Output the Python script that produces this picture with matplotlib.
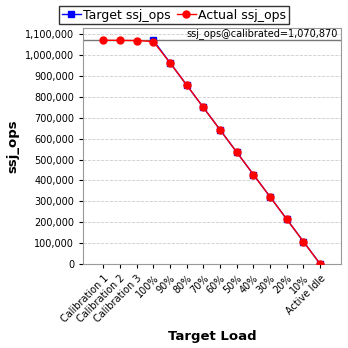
import numpy as np
import matplotlib
matplotlib.use('Agg')
from matplotlib import pyplot as plt
from matplotlib.ticker import FuncFormatter

labels = ['Calibration 1', 'Calibration 2', 'Calibration 3', '100%', '90%', '80%',
          '70%', '60%', '50%', '40%', '30%', '20%', '10%', 'Active Idle']
calibrated = 1070870
target_pct = [1.0, 0.9, 0.8, 0.7, 0.6, 0.5, 0.4, 0.3, 0.2, 0.1, 0.0]
actual = [1071500, 1070900, 1070200, 1065300, 963400, 856800, 749500,
          642300, 535400, 428100, 321200, 214100, 107000, 0]

x = np.arange(len(labels))
target = [calibrated * p for p in target_pct]

fig = plt.figure(figsize=(3.48, 3.48), dpi=100)
ax = fig.add_axes([0.2394, 0.2414, 0.740, 0.678])

ax.plot(x[3:], target, color='blue', marker='s', markersize=5, lw=1, label='Target ssj_ops', zorder=3)
ax.plot(x, actual, color='red', marker='o', markersize=5, lw=1, label='Actual ssj_ops', zorder=4)
ax.axhline(calibrated, color='#777777', lw=1, zorder=2)
ax.text(0.99, calibrated + 7000, 'ssj_ops@calibrated=1,070,870', transform=ax.get_yaxis_transform(),
        ha='right', va='bottom', fontsize=7)

ax.set_xlim(-1.2, 14.24)
ax.set_ylim(0, 1130000)
ax.set_yticks(np.arange(0, 1100001, 100000))
ax.yaxis.set_major_formatter(FuncFormatter(lambda v, p: f'{int(v):,}'))
ax.set_xticks(x)
ax.set_xticklabels(labels, rotation=45, ha='right', rotation_mode='anchor', fontsize=7)
ax.tick_params(axis='y', labelsize=7, length=3)
ax.tick_params(axis='x', length=3)
ax.grid(axis='y', color='#cccccc', ls='--', lw=0.6)
for s in ax.spines.values():
    s.set_color('#999999')

ax.set_xlabel('Target Load', fontsize=9.5, fontweight='bold')
ax.set_ylabel('ssj_ops', fontsize=9.5, fontweight='bold')

fig.legend(loc='upper center', bbox_to_anchor=(0.5, 1.0), ncol=2, fontsize=9,
           frameon=True, fancybox=False, edgecolor='black', handlelength=1.5,
           handletextpad=0.2, columnspacing=0.5, borderpad=0.2)

fig.savefig('out.png', dpi=100)
